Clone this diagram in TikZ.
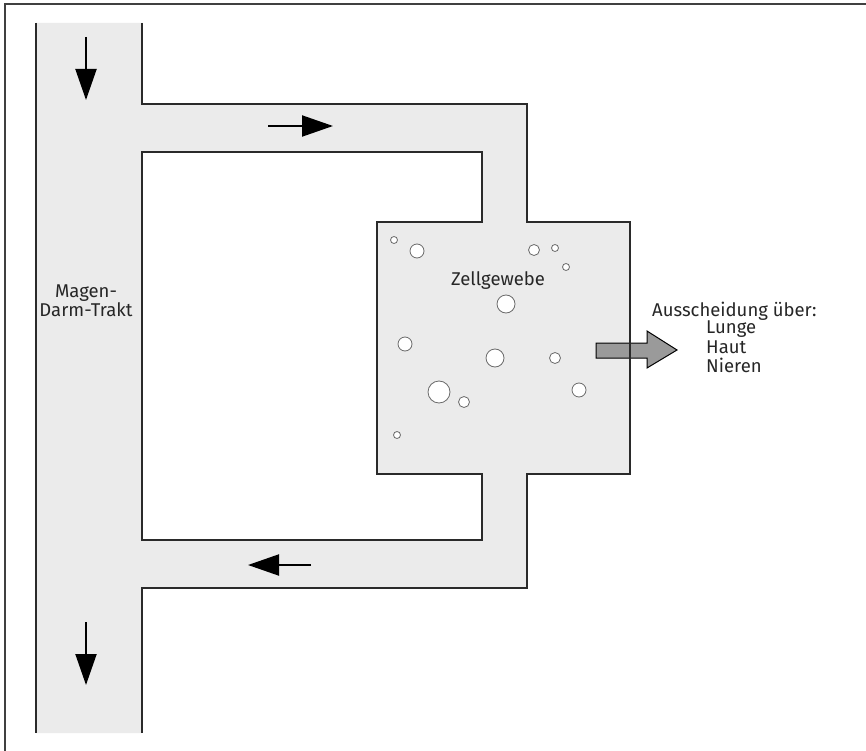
\documentclass[tikz,border=0pt]{standalone}
\usepackage{fontspec}
\setmainfont{Fira Sans}
\usetikzlibrary{arrows.meta}
\definecolor{chan}{HTML}{EBEBEB}
\definecolor{edge}{HTML}{2A2A2A}
\definecolor{outflow}{HTML}{9A9A9A}
\tikzset{
  wall/.style={draw=edge, line width=1.3pt},
  flow/.style={line width=2pt, -{Triangle[length=31pt,width=21pt]}},
  bubble/.style={draw=edge!70, fill=white, line width=0.8pt},
  lbl/.style={font=\fontsize{18.5}{19}\selectfont, text=black!85, inner sep=0pt}
}
\begin{document}
\begin{tikzpicture}[x=1pt,y=-1pt]
\useasboundingbox (0,0) rectangle (866,751);
% frame
\draw[draw=black!75, line width=1.6pt] (5,751) -- (5,4) -- (866,4);
% fill of channels and tissue
\fill[chan, even odd rule]
  (36,23) -- (142,23) -- (142,104) -- (527,104) -- (527,222) -- (630,222) -- (630,474)
  -- (527,474) -- (527,588) -- (142,588) -- (142,733) -- (36,733) -- cycle
  (142,152) -- (482,152) -- (482,222) -- (377,222) -- (377,474) -- (482,474)
  -- (482,540) -- (142,540) -- cycle;
% outflow arrow
\draw[fill=outflow, draw=black, line width=1pt]
  (596,343) -- (647,343) -- (647,331) -- (677,350) -- (647,368) -- (647,358) -- (596,358) -- cycle;
% walls
\draw[wall] (36,23) -- (36,733);
\draw[wall] (142,23) -- (142,104) -- (527,104) -- (527,222) -- (630,222) -- (630,474)
  -- (527,474) -- (527,588) -- (142,588) -- (142,733);
\draw[wall] (142,152) -- (482,152) -- (482,222) -- (377,222) -- (377,474) -- (482,474)
  -- (482,540) -- (142,540) -- cycle;
% bubbles
\foreach \x/\y/\r in {394/240/3.5, 417/251/7, 534/250/5.5, 555/248/3.5, 566/267/3.5,
  506/304/9, 405/344/7, 495/358/9, 555/358/5.5, 439/392/11, 464/402/5.5, 579/390/7, 397/435/3.5}
  \draw[bubble] (\x,\y) circle[radius=\r];
% flow arrows
\coordinate (a1s) at (86,37);  \coordinate (a1e) at (86,100);
\coordinate (a2s) at (268,126); \coordinate (a2e) at (333,126);
\coordinate (a3s) at (311,565); \coordinate (a3e) at (248,565);
\coordinate (a4s) at (86,622); \coordinate (a4e) at (86,685);
\draw[flow] (a1s) -- (a1e);
\draw[flow] (a2s) -- (a2e);
\draw[flow] (a3s) -- (a3e);
\draw[flow] (a4s) -- (a4e);
% labels
\node[lbl, align=center] (mdt) at (86,301) {Magen-\\Darm-Trakt};
\node[lbl] (zg) at (498,281) {Zellgewebe};
\node[lbl, anchor=west] (aus) at (652,311) {Ausscheidung über:};
\node[lbl, anchor=west] (lu) at (706,329) {Lunge};
\node[lbl, anchor=west] (ha) at (706,347) {Haut};
\node[lbl, anchor=west] (ni) at (706,365) {Nieren};
\end{tikzpicture}
\end{document}
